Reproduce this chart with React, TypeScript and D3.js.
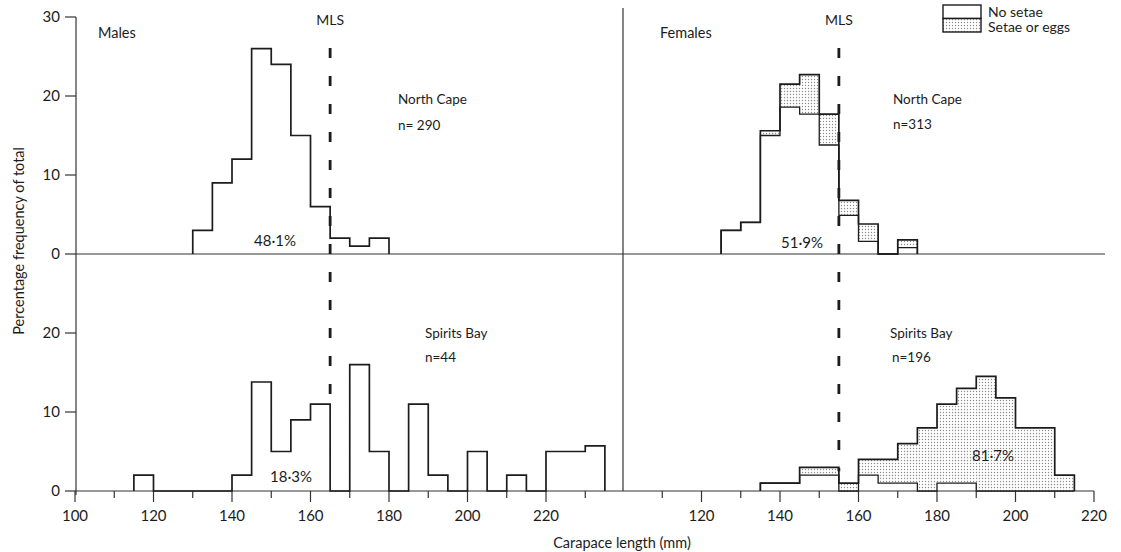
import React from "react";
import * as d3 from "d3";

// 5 mm size classes, values are % of total
const maleNorthStart = 130;
const maleNorth = [3, 9, 12, 26, 24, 15, 6, 2, 1, 2];

const maleSpiritsStart = 115;
const maleSpirits = [2, 0, 0, 0, 0, 2, 13.8, 5, 9, 11, 0, 16, 5, 0, 11, 2, 0, 5, 0, 2, 0, 5, 5, 5.7];

const femNorthStart = 125;
const femNorthAll = [3, 4, 15.6, 21.5, 22.7, 17.7, 6.8, 3.8, 0, 1.8];
const femNorthNoSetae = [3, 4, 15, 18.6, 17.7, 13.8, 4.9, 1.6, 0, 0.8];

const femSpiritsStart = 135;
const femSpiritsAll = [1, 1, 3, 3, 1, 4, 4, 6, 8, 11, 13, 14.5, 11.8, 8, 8, 2];
const femSpiritsNoSetae = [1, 1, 2, 2, 0, 2, 1, 1, 0, 1, 1, 0, 0, 0, 0, 0];

const leftTicks = d3.range(100, 240, 10);
const leftLabels = [100, 120, 140, 160, 180, 200, 220];
const rightTicks = d3.range(110, 230, 10);
const rightLabels = [120, 140, 160, 180, 200, 220];
const yTopTicks = [0, 10, 20, 30];
const yBottomTicks = [0, 10, 20];

const mlsMale = 165;
const mlsFemale = 155;

const FONT = "Lato, 'Open Sans', sans-serif";
const INK = "#1c1c1c";

const xL = d3.scaleLinear().domain([100, 240]).range([75, 624.5]);
const xR = d3.scaleLinear().domain([100, 220]).range([623, 1094]);
const yTop = d3.scaleLinear().domain([0, 30]).range([254, 17]);
const yBot = d3.scaleLinear().domain([0, 30]).range([491, 254]);

type Pt = [number, number];

function steps(start: number, vals: number[]): Pt[] {
  const pts: Pt[] = [[start, 0]];
  vals.forEach((v, i) => {
    pts.push([start + i * 5, v]);
    pts.push([start + i * 5 + 5, v]);
  });
  pts.push([start + vals.length * 5, 0]);
  return pts;
}

function stepPath(start: number, vals: number[], x: any, y: any) {
  return d3.line<Pt>().x((d) => x(d[0])).y((d) => y(d[1]))(steps(start, vals)) || "";
}

function bandPath(start: number, lo: number[], hi: number[], x: any, y: any) {
  const pts: { x: number; lo: number; hi: number }[] = [];
  hi.forEach((h, i) => {
    pts.push({ x: start + i * 5, lo: lo[i], hi: h });
    pts.push({ x: start + i * 5 + 5, lo: lo[i], hi: h });
  });
  return (
    d3
      .area<{ x: number; lo: number; hi: number }>()
      .x((d) => x(d.x))
      .y0((d) => y(d.lo))
      .y1((d) => y(d.hi))(pts) || ""
  );
}

export default function App() {
  const histStroke = { fill: "none", stroke: INK, strokeWidth: 1.7 };
  const txt = { fontFamily: FONT, fill: INK };
  return (
    <svg
      width={1121}
      height={552}
      style={{ position: "absolute", left: 0, top: 0, background: "#fff" }}
    >
      <defs>
        <pattern id="stip" width={3} height={3} patternUnits="userSpaceOnUse">
          <rect width={3} height={3} fill="#fff" />
          <circle cx={1.5} cy={1.5} r={0.7} fill="#8a8a8a" />
        </pattern>
      </defs>

      {/* axes frame */}
      <line x1={76} x2={76} y1={yTop(30)} y2={yBot(0) + 4} stroke="#333" strokeWidth={1.2} />
      <line x1={xR(100)} x2={xR(100)} y1={8} y2={yBot(0)} stroke="#333" strokeWidth={1.2} />
      <line x1={76} x2={1105} y1={yTop(0)} y2={yTop(0)} stroke="#333" strokeWidth={1.2} />
      <line x1={76} x2={xR(220)} y1={yBot(0)} y2={yBot(0)} stroke="#333" strokeWidth={1.2} />

      {yTopTicks.map((t) => (
        <g key={"yt" + t}>
          <line x1={65} x2={76} y1={yTop(t)} y2={yTop(t)} stroke="#333" strokeWidth={1.2} />
          <text x={60} y={yTop(t) + 5} textAnchor="end" fontSize={15} {...txt}>
            {t}
          </text>
        </g>
      ))}
      {yBottomTicks.map((t) => (
        <g key={"yb" + t}>
          <line x1={65} x2={76} y1={yBot(t)} y2={yBot(t)} stroke="#333" strokeWidth={1.2} />
          <text x={60} y={yBot(t) + 5} textAnchor="end" fontSize={15} {...txt}>
            {t}
          </text>
        </g>
      ))}

      {leftTicks.map((t) => (
        <line
          key={"lt" + t}
          x1={xL(t)}
          x2={xL(t)}
          y1={yBot(0)}
          y2={yBot(0) + (t % 20 === 0 ? 11 : 7)}
          stroke="#333"
          strokeWidth={1.2}
        />
      ))}
      {leftLabels.map((t) => (
        <text key={"ll" + t} x={xL(t)} y={521} textAnchor="middle" fontSize={15} {...txt}>
          {t}
        </text>
      ))}
      {rightTicks.map((t) => (
        <line
          key={"rt" + t}
          x1={xR(t)}
          x2={xR(t)}
          y1={yBot(0)}
          y2={yBot(0) + (t % 20 === 0 ? 11 : 7)}
          stroke="#333"
          strokeWidth={1.2}
        />
      ))}
      {rightLabels.map((t) => (
        <text key={"rl" + t} x={xR(t)} y={521} textAnchor="middle" fontSize={15} {...txt}>
          {t}
        </text>
      ))}

      {/* stippled parts (setae or eggs) */}
      <path d={bandPath(femNorthStart, femNorthNoSetae, femNorthAll, xR, yTop)} fill="url(#stip)" />
      <path d={bandPath(femSpiritsStart, femSpiritsNoSetae, femSpiritsAll, xR, yBot)} fill="url(#stip)" />

      {/* histogram outlines */}
      <path d={stepPath(maleNorthStart, maleNorth, xL, yTop)} {...histStroke} />
      <path d={stepPath(maleSpiritsStart, maleSpirits, xL, yBot)} {...histStroke} />
      <path d={stepPath(femNorthStart, femNorthAll, xR, yTop)} {...histStroke} />
      <path d={stepPath(femNorthStart, femNorthNoSetae, xR, yTop)} {...histStroke} strokeWidth={1.3} />
      <path d={stepPath(femSpiritsStart, femSpiritsAll, xR, yBot)} {...histStroke} />
      <path d={stepPath(femSpiritsStart, femSpiritsNoSetae, xR, yBot)} {...histStroke} strokeWidth={1.3} />

      {/* minimum legal size */}
      <line
        x1={xL(mlsMale)}
        x2={xL(mlsMale)}
        y1={48}
        y2={yBot(11)}
        stroke={INK}
        strokeWidth={2.8}
        strokeDasharray="10,18"
      />
      <line
        x1={xR(mlsFemale)}
        x2={xR(mlsFemale)}
        y1={48}
        y2={yBot(2.5)}
        stroke={INK}
        strokeWidth={2.8}
        strokeDasharray="10,18"
      />
      <text x={xL(mlsMale)} y={25} textAnchor="middle" fontSize={14} {...txt}>MLS</text>
      <text x={xR(mlsFemale)} y={25} textAnchor="middle" fontSize={14} {...txt}>MLS</text>

      {/* panel labels */}
      <text x={98} y={38} fontSize={14.5} {...txt}>Males</text>
      <text x={660} y={38} fontSize={14.5} {...txt}>Females</text>

      <text x={398} y={104} fontSize={13.5} {...txt}>North Cape</text>
      <text x={398} y={130} fontSize={13.5} {...txt}>n= 290</text>
      <text x={893} y={104} fontSize={13.5} {...txt}>North Cape</text>
      <text x={893} y={129} fontSize={13.5} {...txt}>n=313</text>
      <text x={425} y={338} fontSize={13.5} {...txt}>Spirits Bay</text>
      <text x={425} y={362} fontSize={13.5} {...txt}>n=44</text>
      <text x={890} y={338} fontSize={13.5} {...txt}>Spirits Bay</text>
      <text x={892} y={362} fontSize={13.5} {...txt}>n=196</text>

      <text x={275} y={246} textAnchor="middle" fontSize={15} {...txt}>48·1%</text>
      <text x={802} y={248} textAnchor="middle" fontSize={15} {...txt}>51·9%</text>
      <text x={291} y={482} textAnchor="middle" fontSize={15} {...txt}>18·3%</text>
      <text x={993} y={461} textAnchor="middle" fontSize={15} {...txt}>81·7%</text>

      {/* legend */}
      <rect x={943} y={5} width={38} height={13.5} fill="#fff" stroke={INK} strokeWidth={1.4} />
      <rect x={943} y={18.5} width={38} height={13.5} fill="url(#stip)" stroke={INK} strokeWidth={1.4} />
      <text x={988} y={17} fontSize={14} {...txt}>No  setae</text>
      <text x={988} y={32} fontSize={14} {...txt}>Setae or eggs</text>

      {/* axis titles */}
      <text
        transform="translate(24,147) rotate(-90)"
        textAnchor="end"
        fontSize={14.5}
        {...txt}
      >
        Percentage frequency of total
      </text>
      <text x={622} y={548} textAnchor="middle" fontSize={14.5} {...txt}>
        Carapace length (mm)
      </text>
    </svg>
  );
}
